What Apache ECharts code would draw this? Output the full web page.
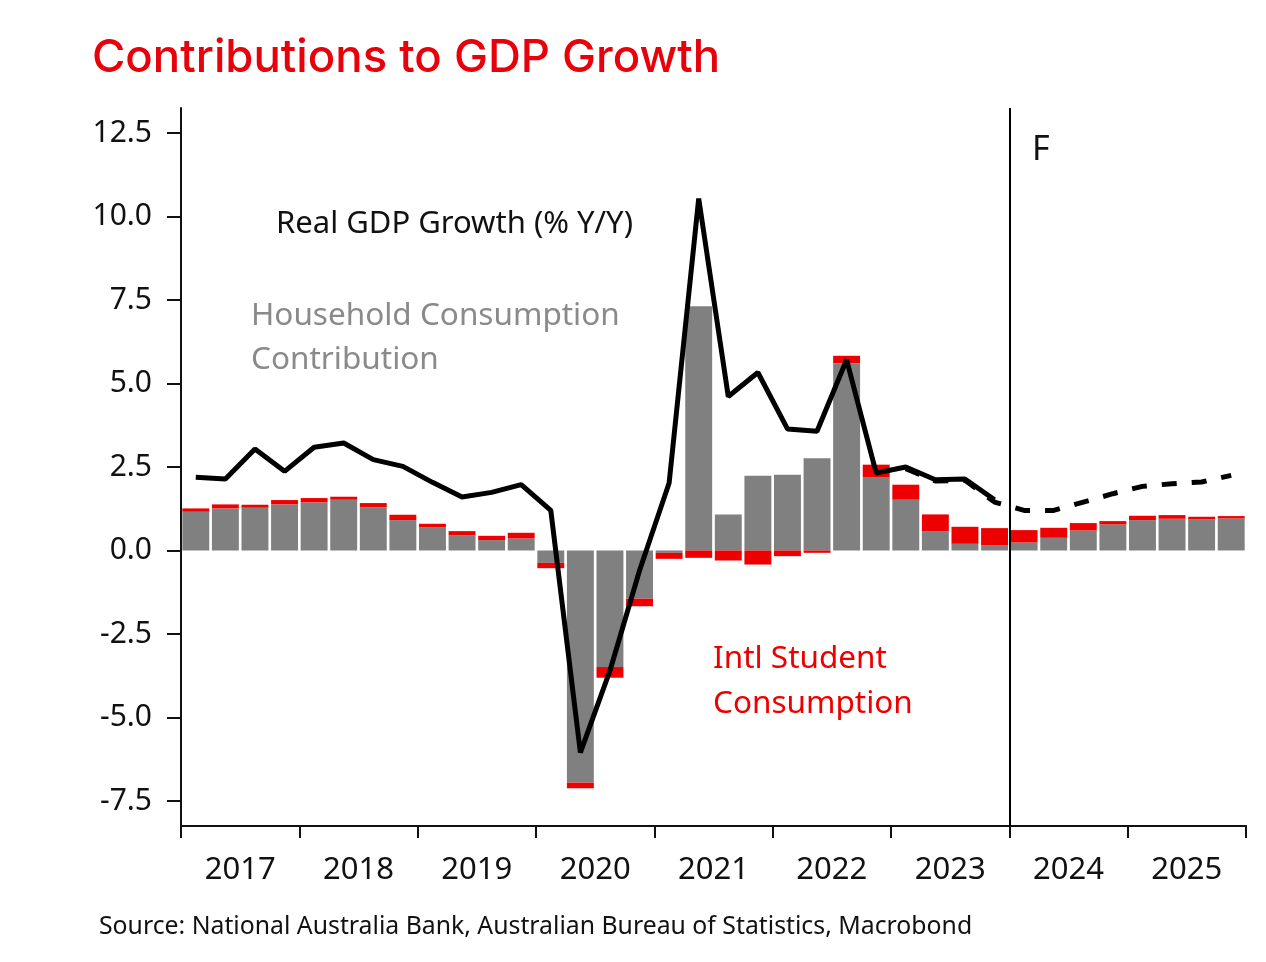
<!DOCTYPE html>
<html>
<head>
<meta charset="utf-8">
<script src="https://cdn.jsdelivr.net/npm/echarts@6/dist/echarts.min.js"></script>
<style>
html,body{margin:0;padding:0;background:#fff;}
#chart{width:1266px;height:962px;}
</style>
</head>
<body>
<div id="chart"></div>
<script>
var years = ['2017','2018','2019','2020','2021','2022','2023','2024','2025'];
var quarters = [];
years.forEach(function(y){ ['Q1','Q2','Q3','Q4'].forEach(function(q){ quarters.push(y + q); }); });

var yTicks = [-7.5, -5.0, -2.5, 0.0, 2.5, 5.0, 7.5, 10.0, 12.5];

var household = [1.16,1.26,1.28,1.38, 1.44,1.52,1.29,0.91, 0.70,0.46,0.31,0.36,
                 -0.37,-6.95,-3.49,-1.44, -0.07,7.31,1.08,2.24, 2.27,2.76,5.61,2.19,
                 1.52,0.58,0.20,0.16, 0.24,0.38,0.60,0.78, 0.91,0.95,0.93,0.96];
var students  = [0.10,0.12,0.09,0.13, 0.13,0.09,0.13,0.16, 0.10,0.12,0.13,0.17,
                 -0.16,-0.17,-0.32,-0.23, -0.18,-0.22,-0.30,-0.42, -0.17,-0.07,0.22,0.38,
                 0.45,0.50,0.51,0.51, 0.37,0.30,0.22,0.10, 0.13,0.11,0.08,0.07];
var gdpActual = [2.19,2.14,3.04,2.37, 3.09,3.22,2.72,2.52, 2.04,1.60,1.74,1.97,
                 1.20,-6.05,-3.60,-0.60, 2.02,10.54,4.61,5.33, 3.64,3.57,5.71,2.32,
                 2.50,2.12,2.14,1.52];
var forecastStart = 24;
var gdpForecast = [2.45,2.08,2.10,1.45, 1.20,1.20,1.45,1.70, 1.92,2.00,2.05,2.25];
var forecastBoundary = 28;

var dashedData = [];
for (var i = 0; i < forecastStart; i++) dashedData.push(null);
dashedData = dashedData.concat(gdpForecast);

var FONT = '"Noto Sans", "DejaVu Sans", sans-serif';
var chart = echarts.init(document.getElementById('chart'), null, {renderer: 'canvas'});

chart.setOption({
  animation: false,
  backgroundColor: '#fff',
  grid: {left: 181, right: 20, top: 108, bottom: 136, containLabel: false},
  xAxis: [
    {type: 'category', data: quarters, show: false, gridIndex: 0, boundaryGap: true},
    {type: 'category', data: years, gridIndex: 0, position: 'bottom', boundaryGap: true,
     axisLine: {show: true, onZero: false, lineStyle: {color: '#111', width: 2}},
     axisTick: {show: true, length: 12, interval: 0, lineStyle: {color: '#111', width: 2}},
     axisLabel: {show: true, interval: 0, fontSize: 31, color: '#111', fontFamily: FONT, margin: 29},
     splitLine: {show: false}},
    {type: 'value', min: 0, max: 36, show: false, gridIndex: 0}
  ],
  yAxis: [{
    type: 'value', min: -8.25, max: 13.25,
    axisLine: {show: true, lineStyle: {color: '#111', width: 2}},
    axisTick: {show: true, length: 14, customValues: yTicks, lineStyle: {color: '#111', width: 2}},
    axisLabel: {show: true, customValues: yTicks, fontSize: 30, color: '#111', fontFamily: FONT, margin: 29,
      formatter: function(v){ return v.toFixed(1); }},
    splitLine: {show: false}
  }],
  series: [
    {name: 'Household Consumption Contribution', type: 'bar', xAxisIndex: 0, yAxisIndex: 0, stack: 'c',
     data: household, barCategoryGap: '9%', itemStyle: {color: '#808080'}, z: 2},
    {name: 'Intl Student Consumption', type: 'bar', xAxisIndex: 0, yAxisIndex: 0, stack: 'c',
     data: students, barCategoryGap: '9%', itemStyle: {color: '#ee0000'}, z: 2},
    {name: 'Real GDP Growth (% Y/Y)', type: 'line', xAxisIndex: 0, yAxisIndex: 0, data: gdpActual,
     symbol: 'none', lineStyle: {color: '#000', width: 5}, z: 5},
    {name: 'Forecast', type: 'line', xAxisIndex: 0, yAxisIndex: 0, data: dashedData,
     symbol: 'none', lineStyle: {color: '#000', width: 5, type: [15, 15]}, z: 5},
    {name: 'boundary', type: 'line', xAxisIndex: 2, yAxisIndex: 0, data: [[forecastBoundary, 0]],
     symbol: 'none', lineStyle: {opacity: 0}, silent: true, z: 6,
     markLine: {silent: true, symbol: ['none', 'none'], animation: false,
       label: {show: false}, lineStyle: {color: '#000', width: 2, type: 'solid'},
       data: [{xAxis: forecastBoundary}]}}
  ],
  graphic: [
    {type: 'text', style: {x: 92, y: 58, text: 'Contributions to GDP Growth', fill: '#e8000b',
      font: '500 45.5px Inter, "Noto Sans", sans-serif', align: 'left', verticalAlign: 'middle'}},
    {type: 'text', style: {x: 276, y: 224, text: 'Real GDP Growth (% Y/Y)', fill: '#111',
      font: '31px ' + FONT, align: 'left', verticalAlign: 'middle'}},
    {type: 'text', style: {x: 251, y: 316, text: 'Household Consumption', fill: '#8a8a8a',
      font: '31.5px ' + FONT, align: 'left', verticalAlign: 'middle'}},
    {type: 'text', style: {x: 251, y: 360, text: 'Contribution', fill: '#8a8a8a',
      font: '31.5px ' + FONT, align: 'left', verticalAlign: 'middle'}},
    {type: 'text', style: {x: 713, y: 659, text: 'Intl Student', fill: '#ee0000',
      font: '31.5px ' + FONT, align: 'left', verticalAlign: 'middle'}},
    {type: 'text', style: {x: 713, y: 704, text: 'Consumption', fill: '#ee0000',
      font: '31.5px ' + FONT, align: 'left', verticalAlign: 'middle'}},
    {type: 'text', style: {x: 1032, y: 150, text: 'F', fill: '#111',
      font: '34px ' + FONT, align: 'left', verticalAlign: 'middle'}},
    {type: 'text', style: {x: 99, y: 927, text: 'Source: National Australia Bank, Australian Bureau of Statistics, Macrobond', fill: '#111',
      font: '24.8px ' + FONT, align: 'left', verticalAlign: 'middle'}}
  ]
});
</script>
</body>
</html>
